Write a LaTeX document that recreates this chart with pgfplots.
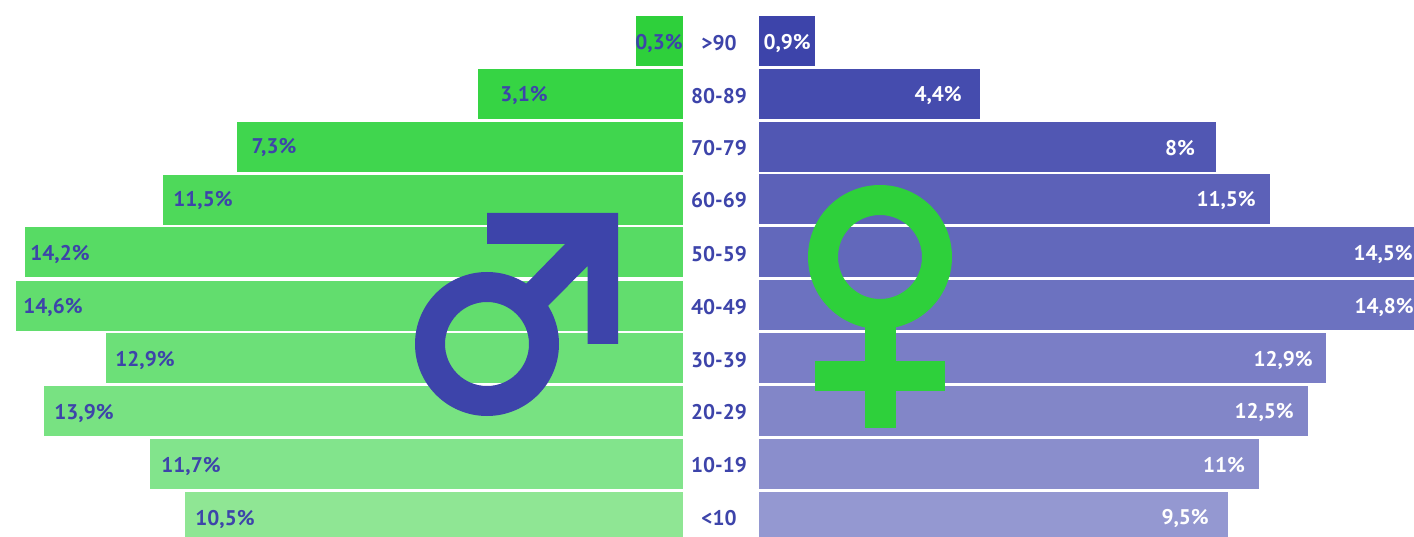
\documentclass[border=0pt]{standalone}
\usepackage{fontspec}
\setmainfont{PT Sans}
\usepackage{pgfplots}
\pgfplotsset{compat=1.18}
\definecolor{ink}{RGB}{61,68,170}
\definecolor{sym}{RGB}{46,208,59}
\definecolor{g1}{RGB}{46,208,59}
\definecolor{g2}{RGB}{54,212,68}
\definecolor{g3}{RGB}{64,214,78}
\definecolor{g4}{RGB}{78,217,90}
\definecolor{g5}{RGB}{87,219,100}
\definecolor{g6}{RGB}{98,221,110}
\definecolor{g7}{RGB}{108,224,120}
\definecolor{g8}{RGB}{120,226,130}
\definecolor{g9}{RGB}{130,228,140}
\definecolor{g10}{RGB}{143,230,148}
\definecolor{b1}{RGB}{61,68,170}
\definecolor{b2}{RGB}{69,76,174}
\definecolor{b3}{RGB}{81,87,179}
\definecolor{b4}{RGB}{92,97,184}
\definecolor{b5}{RGB}{98,104,187}
\definecolor{b6}{RGB}{108,114,192}
\definecolor{b7}{RGB}{122,126,198}
\definecolor{b8}{RGB}{130,134,200}
\definecolor{b9}{RGB}{138,142,204}
\definecolor{b10}{RGB}{148,152,209}
\pgfplotsset{
  bb/.style={xbar, bar shift=0pt, bar width=25pt, draw=none, fill=#1, forget plot},
  common/.style={scale only axis, height=268pt, ymin=0, ymax=536, y dir=reverse, clip=true},
  vals/.style={only marks, mark=none, draw=none, forget plot, point meta=explicit symbolic,
    nodes near coords={\pgfplotspointmeta\%},
    nodes near coords style={anchor=center, inner sep=0pt, font=\fontsize{10.6}{12}\selectfont\bfseries, text=#1}},
}
\begin{document}
\begin{tikzpicture}
% left pyramid: bar lengths measured from the central axis, as drawn in the reference
\begin{axis}[common, at={(0,0)}, anchor=south west, width=341.5pt, xmin=0, xmax=683, x dir=reverse, hide axis]
\addplot[bb=g1] coordinates {(47,41)};
\addplot[bb=g2] coordinates {(205,94)};
\addplot[bb=g3] coordinates {(446,147)};
\addplot[bb=g4] coordinates {(520,200)};
\addplot[bb=g5] coordinates {(658,252)};
\addplot[bb=g6] coordinates {(667,305.5)};
\addplot[bb=g7] coordinates {(577,358)};
\addplot[bb=g8] coordinates {(639,410.5)};
\addplot[bb=g9] coordinates {(533,463.5)};
\addplot[bb=g10] coordinates {(498,517)};
\addplot[vals=ink] table[meta=label] {
x y label
24 43 0,3
159 95 3,1
409 147 7,3
480 200 11,5
623 254 14,2
630 307 14,6
538 360 12,9
599 413 13,9
492 466 11,7
458 519 10,5
};
\end{axis}
% right pyramid
\begin{axis}[common, at={(379.3pt,0)}, anchor=south west, width=327.7pt, xmin=0, xmax=655.4,
  axis x line=none, axis y line*=left, axis line style={draw=none}, major tick length=0pt,
  ytick={43,96,148,200,254,307,360,412,465,518},
  yticklabels={>90,80-89,70-79,60-69,50-59,40-49,30-39,20-29,10-19,<10},
  yticklabel style={anchor=center, xshift=-19.8pt, inner sep=0pt, font=\fontsize{10.6}{12}\selectfont\bfseries, text=ink}]
\addplot[bb=b1] coordinates {(56.5,41)};
\addplot[bb=b2] coordinates {(221.5,94)};
\addplot[bb=b3] coordinates {(457.5,147)};
\addplot[bb=b4] coordinates {(511.5,199)};
\addplot[bb=b5] coordinates {(660,252)};
\addplot[bb=b6] coordinates {(670,305)};
\addplot[bb=b7] coordinates {(567.5,358)};
\addplot[bb=b8] coordinates {(549.5,411)};
\addplot[bb=b9] coordinates {(500.5,463.5)};
\addplot[bb=b10] coordinates {(469.5,517)};
\addplot[vals=white] table[meta=label] {
x y label
28.5 43 0,9
179.5 95 4,4
421.5 148 8
467.5 200 11,5
624.5 254 14,5
625.5 307 14,8
524.5 360 12,9
505.5 412 12,5
465.5 465 11
426.5 518 9,5
};
\end{axis}
% gender symbols, in pixel coordinates from the top left corner
\begin{scope}[shift={(0,268pt)}, x=0.5pt, y=-0.5pt]
  \fill[ink, even odd rule] (487,344) circle[radius=36pt] (487,344) circle[radius=21pt];
  \fill[ink] (487,213) -- (618,213) -- (618,344) -- (587.5,344) -- (587.5,266) -- (548,306) -- (526,284) -- (565,244) -- (487,244) -- cycle;
  \fill[sym, even odd rule] (880,257) circle[radius=36pt] (880,257) circle[radius=21pt];
  \fill[sym] (865,326) rectangle (896,428);
  \fill[sym] (815,361) rectangle (945,391);
\end{scope}
\pgfresetboundingbox
\path (0,0) rectangle (707pt,268pt);
\end{tikzpicture}
\end{document}
